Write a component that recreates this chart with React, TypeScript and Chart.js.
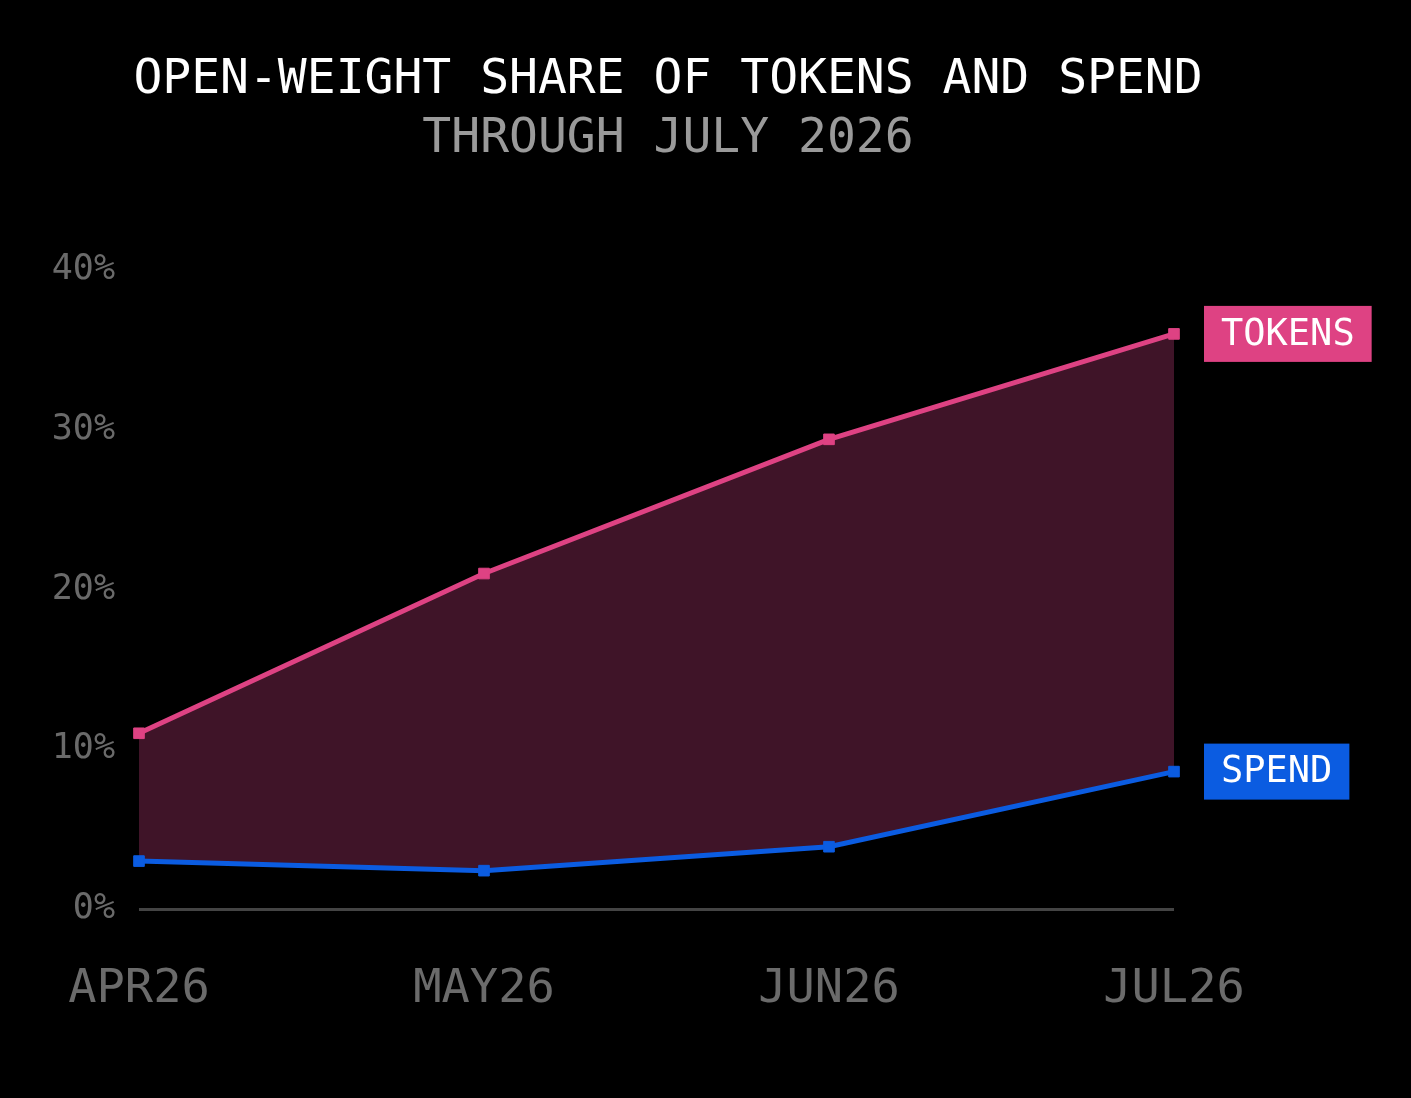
import React, { useEffect, useRef } from "react";
import { Chart, registerables } from "chart.js";

Chart.register(...registerables);

const TITLE = "OPEN-WEIGHT SHARE OF TOKENS AND SPEND";
const SUBTITLE = "THROUGH JULY 2026";
const months = ["APR26", "MAY26", "JUN26", "JUL26"];
const tokensShare = [11.0, 21.0, 29.4, 36.0];
const spendShare = [3.0, 2.4, 3.9, 8.6];
const yTicks = [0, 10, 20, 30, 40];

const FONT = "'DejaVu Sans Mono', 'Liberation Mono', monospace";
const PINK = "#de4283";
const BLUE = "#0b5ce1";
const FILL = "#3f1428";

const overlayPlugin = {
  id: "overlay",
  afterDraw(chart: any) {
    const ctx = chart.ctx;
    ctx.save();
    ctx.textAlign = "center";
    ctx.textBaseline = "alphabetic";
    ctx.font = `48px ${FONT}`;
    ctx.fillStyle = "#ffffff";
    ctx.fillText(TITLE, 668, 93);
    ctx.font = `48px ${FONT}`;
    ctx.fillStyle = "#9a9a9a";
    ctx.fillText(SUBTITLE, 668, 152);

    const labels = [
      { ds: 0, text: "TOKENS", color: PINK },
      { ds: 1, text: "SPEND", color: BLUE },
    ];
    ctx.font = `37px ${FONT}`;
    labels.forEach((l) => {
      const meta = chart.getDatasetMeta(l.ds);
      const pt = meta.data[meta.data.length - 1];
      const w = ctx.measureText(l.text).width;
      const x0 = pt.x + 30;
      const h = 56;
      ctx.fillStyle = l.color;
      ctx.fillRect(x0, pt.y - h / 2, w + 34, h);
      ctx.fillStyle = "#ffffff";
      ctx.textAlign = "left";
      ctx.textBaseline = "middle";
      ctx.fillText(l.text, x0 + 17, pt.y + 1);
    });
    ctx.restore();
  },
};

export default function App() {
  const ref = useRef<HTMLCanvasElement | null>(null);
  useEffect(() => {
    document.body.style.margin = "0";
    document.body.style.background = "#000";
    if (!ref.current) return;
    const chart = new Chart(ref.current, {
      type: "line",
      data: {
        labels: months,
        datasets: [
          {
            label: "TOKENS",
            data: tokensShare,
            borderColor: PINK,
            backgroundColor: FILL,
            pointBackgroundColor: PINK,
            pointBorderColor: PINK,
            borderWidth: 5,
            pointStyle: "rect",
            pointRadius: 7.5,
            pointBorderWidth: 1,
            fill: "+1",
            tension: 0,
            order: 1,
          },
          {
            label: "SPEND",
            data: spendShare,
            borderColor: BLUE,
            backgroundColor: BLUE,
            pointBackgroundColor: BLUE,
            pointBorderColor: BLUE,
            borderWidth: 5,
            pointStyle: "rect",
            pointRadius: 7.5,
            pointBorderWidth: 1,
            fill: false,
            tension: 0,
            order: 0,
          },
        ],
      },
      options: {
        animation: false,
        responsive: true,
        maintainAspectRatio: false,
        layout: { padding: { left: 0, right: 237, top: 270, bottom: 0 } },
        plugins: {
          legend: { display: false },
          tooltip: { enabled: false },
          title: { display: false },
          filler: { drawTime: "beforeDatasetsDraw" },
        } as any,
        scales: {
          x: {
            offset: false,
            grid: { display: false, drawTicks: false },
            border: { display: false },
            ticks: {
              color: "#6b6b6b",
              font: { family: FONT, size: 47 },
              padding: 53,
              maxRotation: 0,
            },
            afterFit: (s: any) => {
              s.height = 189;
            },
          },
          y: {
            min: 0,
            max: 40,
            afterBuildTicks: (s: any) => {
              s.ticks = yTicks.map((v) => ({ value: v }));
            },
            grid: {
              drawTicks: false,
              color: (c: any) => (c.tick && c.tick.value === 0 ? "#444444" : "rgba(0,0,0,0)"),
              lineWidth: 3,
            },
            border: { display: false },
            ticks: {
              color: "#6a6a6a",
              font: { family: FONT, size: 35 },
              padding: 24,
              callback: (v: any) => `${v}%`,
            },
            afterFit: (s: any) => {
              s.width = 139;
            },
          },
        },
      },
      plugins: [overlayPlugin],
    });
    return () => chart.destroy();
  }, []);
  return (
    <div style={{ position: "absolute", left: 0, top: 0, width: 1411, height: 1098, background: "#000" }}>
      <canvas ref={ref} />
    </div>
  );
}
